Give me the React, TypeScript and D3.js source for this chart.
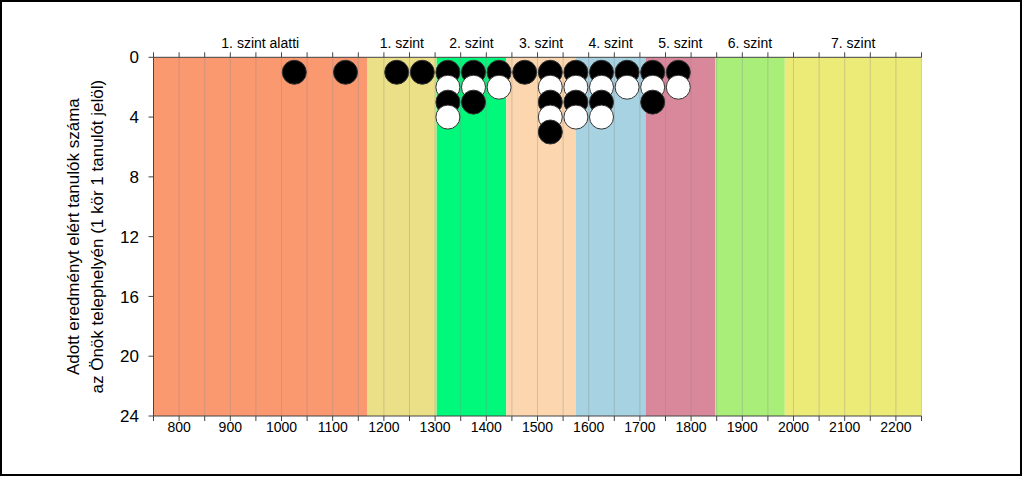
import React from "react";
import * as d3 from "d3";

const levelNames = ["1. szint alatti", "1. szint", "2. szint", "3. szint", "4. szint", "5. szint", "6. szint", "7. szint"];
const levelBounds = [750, 1167, 1303, 1439, 1575, 1711, 1847, 1983, 2250];
const levelColors = ["#FA9870", "#EBE088", "#00F97A", "#FCD6AE", "#A6D2E2", "#D8889A", "#AAEE7A", "#EDEB78"];

const binCenters = [1025, 1125, 1225, 1275, 1325, 1375, 1425, 1475, 1525, 1575, 1625, 1675, 1725, 1775];
const binCounts = [1, 1, 1, 1, 4, 3, 2, 1, 5, 4, 4, 2, 3, 2];
const circleFills = ["#000000", "#ffffff"];

const xTickLabels = [800, 900, 1000, 1100, 1200, 1300, 1400, 1500, 1600, 1700, 1800, 1900, 2000, 2100, 2200];
const yTickLabels = [0, 4, 8, 12, 16, 20, 24];
const yTitle = ["Adott eredményt elért tanulók száma", "az Önök telephelyén (1 kör 1 tanulót jelöl)"];

const W = 1024;
const H = 478;
const FONT = "'Liberation Sans', Arial, Helvetica, sans-serif";

export default function App() {
  const x = d3.scaleLinear().domain([750, 2250]).range([153.5, 921.5]);
  const y = d3.scaleLinear().domain([0, 24]).range([57.3, 416]);
  const r = 12;
  const minorTicks = d3.range(750, 2251, 50);
  const [y0, y1] = y.range();

  const circles: { cx: number; cy: number; fill: string; key: string }[] = [];
  binCenters.forEach((b, i) => {
    for (let k = 1; k <= binCounts[i]; k++) {
      circles.push({ cx: x(b), cy: y(k), fill: circleFills[(k - 1) % 2], key: `${b}-${k}` });
    }
  });

  return (
    <svg width={W} height={H} style={{ position: "absolute", left: 0, top: 0, background: "#fff" }} fontFamily={FONT}>
      <rect x={0} y={0} width={W} height={H} fill="#fff" />
      {levelNames.map((n, i) => (
        <rect key={n} x={x(levelBounds[i])} y={y0} width={x(levelBounds[i + 1]) - x(levelBounds[i])} height={y1 - y0} fill={levelColors[i]} />
      ))}
      {minorTicks.map((t) => (
        <line key={"g" + t} x1={x(t)} x2={x(t)} y1={y0} y2={y1} stroke="#8a8a8a" strokeOpacity={0.35} strokeWidth={1} />
      ))}
      <line x1={x(750)} x2={x(2250)} y1={y0} y2={y0} stroke="#444" strokeWidth={1} />
      <line x1={x(750)} x2={x(2250)} y1={y1} y2={y1} stroke="#444" strokeWidth={1} />
      <line x1={x(750)} x2={x(750)} y1={y0} y2={y1} stroke="#444" strokeWidth={1} />
      {minorTicks.map((t) => (
        <g key={"t" + t}>
          <line x1={x(t)} x2={x(t)} y1={y0 - 5} y2={y0} stroke="#444" strokeWidth={1} />
          <line x1={x(t)} x2={x(t)} y1={y1} y2={y1 + 5} stroke="#444" strokeWidth={1} />
        </g>
      ))}
      {yTickLabels.map((t) => (
        <g key={"y" + t}>
          <line x1={x(750) - 5} x2={x(750)} y1={y(t)} y2={y(t)} stroke="#444" strokeWidth={1} />
          <text x={139} y={y(t)} dy="0.36em" textAnchor="end" fontSize={17} fill="#000">{t}</text>
        </g>
      ))}
      {xTickLabels.map((t) => (
        <text key={"x" + t} x={x(t)} y={431.5} textAnchor="middle" fontSize={14} fill="#000">{t}</text>
      ))}
      {levelNames.map((n, i) => (
        <text key={"l" + n} x={(x(levelBounds[i]) + x(levelBounds[i + 1])) / 2} y={48} textAnchor="middle" fontSize={14} fill="#000">{n}</text>
      ))}
      {circles.map((c) => (
        <circle key={c.key} cx={c.cx} cy={c.cy} r={r} fill={c.fill} stroke="#333" strokeWidth={1} />
      ))}
      {yTitle.map((t, i) => (
        <text key={"yt" + i} transform={`translate(${73 + i * 24},${(y0 + y1) / 2}) rotate(-90)`} textAnchor="middle" dy="0.35em" fontSize={17} fill="#000">{t}</text>
      ))}
      <rect x={1} y={1} width={1020} height={474} fill="none" stroke="#000" strokeWidth={2} />
    </svg>
  );
}
